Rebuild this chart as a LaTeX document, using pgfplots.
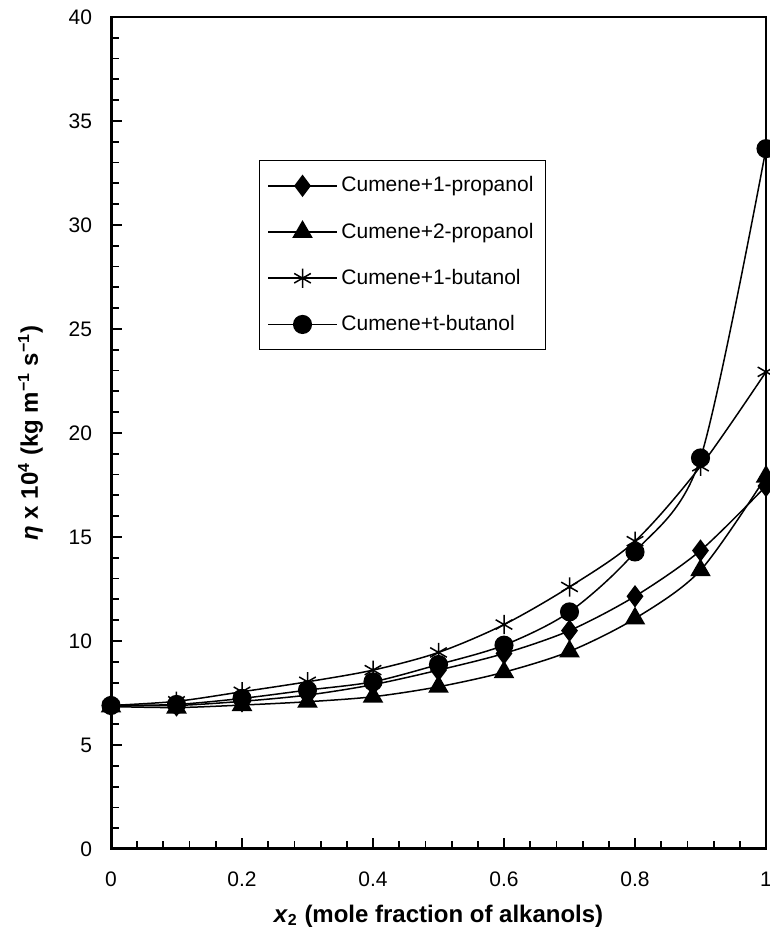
\documentclass[border=0pt]{standalone}
\usepackage{fontspec}
\setmainfont{Liberation Sans}
\usepackage{pgfplots}
\pgfplotsset{compat=1.18}
\begin{document}
\begin{tikzpicture}
\begin{axis}[
  name=ax,
  scale only axis,
  width=327.5pt, height=416pt,
  xmin=0, xmax=1, ymin=0, ymax=40,
  xtick={0,0.2,0.4,0.6,0.8,1},
  ytick={0,5,10,15,20,25,30,35,40},
  minor x tick num=4, minor y tick num=4,
  tick pos=left,
  tick align=inside,
  major tick length=5.5pt, minor tick length=4pt,
  tick style={line width=0.9pt, black},
  axis line style={line width=0.6pt},
  /pgf/number format/assume math mode=true,
  ticklabel style={font=\fontsize{10.5}{12}\selectfont},
  xticklabel style={yshift=-8pt},
  yticklabel style={xshift=-6pt},
  xlabel={\textbf{\textit{x}\textsubscript{2} (mole fraction of alkanols)}},
  ylabel={\textbf{\textit{η} x 10\textsuperscript{4} (kg m\textsuperscript{−1} s\textsuperscript{−1})}},
  label style={font=\fontsize{12}{14}\selectfont},
  xlabel style={yshift=-2pt},
  ylabel style={yshift=6pt},
  legend cell align=left,
  legend style={at={(0.226,0.828)}, anchor=north west, draw=black, line width=0.6pt,
    font=\fontsize{10.5}{12}\selectfont, row sep=10pt, inner xsep=4pt, inner ysep=6pt},
  legend image code/.code={\draw[mark repeat=2,mark phase=2] plot coordinates {(0cm,0cm) (0.6cm,0cm) (1.2cm,0cm)};},
]
\addplot[black, line width=0.75pt, smooth, tension=0.5, mark=diamond*, mark size=5pt, mark options={fill=black, solid}] coordinates {
 (0,6.9) (0.1,6.9) (0.2,7.1) (0.3,7.4) (0.4,7.9) (0.5,8.6) (0.6,9.4) (0.7,10.5) (0.8,12.15) (0.9,14.35) (1.0,17.45)};
\addlegendentry{Cumene+1-propanol}
\addplot[black, line width=0.75pt, smooth, tension=0.5, mark=triangle*, mark size=5.2pt, mark options={fill=black, solid}] coordinates {
 (0,6.85) (0.1,6.8) (0.2,6.92) (0.3,7.08) (0.4,7.32) (0.5,7.8) (0.6,8.5) (0.7,9.5) (0.8,11.08) (0.9,13.4) (1.0,17.9)};
\addlegendentry{Cumene+2-propanol}
\addplot[black, line width=0.75pt, smooth, tension=0.5, mark=asterisk, mark size=4.8pt, mark options={solid, line width=0.75pt}] coordinates {
 (0,6.9) (0.1,7.1) (0.2,7.56) (0.3,8.04) (0.4,8.6) (0.5,9.45) (0.6,10.79) (0.7,12.6) (0.8,14.8) (0.9,18.4) (1.0,22.94)};
\addlegendentry{Cumene+1-butanol}
\addplot[black, line width=0.75pt, smooth, tension=0.5, mark=*, mark size=4.4pt, mark options={fill=black, solid}] coordinates {
 (0,6.9) (0.1,6.95) (0.2,7.24) (0.3,7.64) (0.4,8.04) (0.5,8.87) (0.6,9.8) (0.7,11.4) (0.8,14.28) (0.9,18.8) (1.0,33.67)};
\addlegendentry{Cumene+t-butanol}
\end{axis}
\draw[line width=1.5pt] (ax.north west) -- (ax.south west) -- (ax.south east);
\pgfresetboundingbox
\path ([shift={(-55.5pt,-41pt)}]ax.south west) rectangle ([shift={(2pt,8.5pt)}]ax.north east);
\end{tikzpicture}
\end{document}
